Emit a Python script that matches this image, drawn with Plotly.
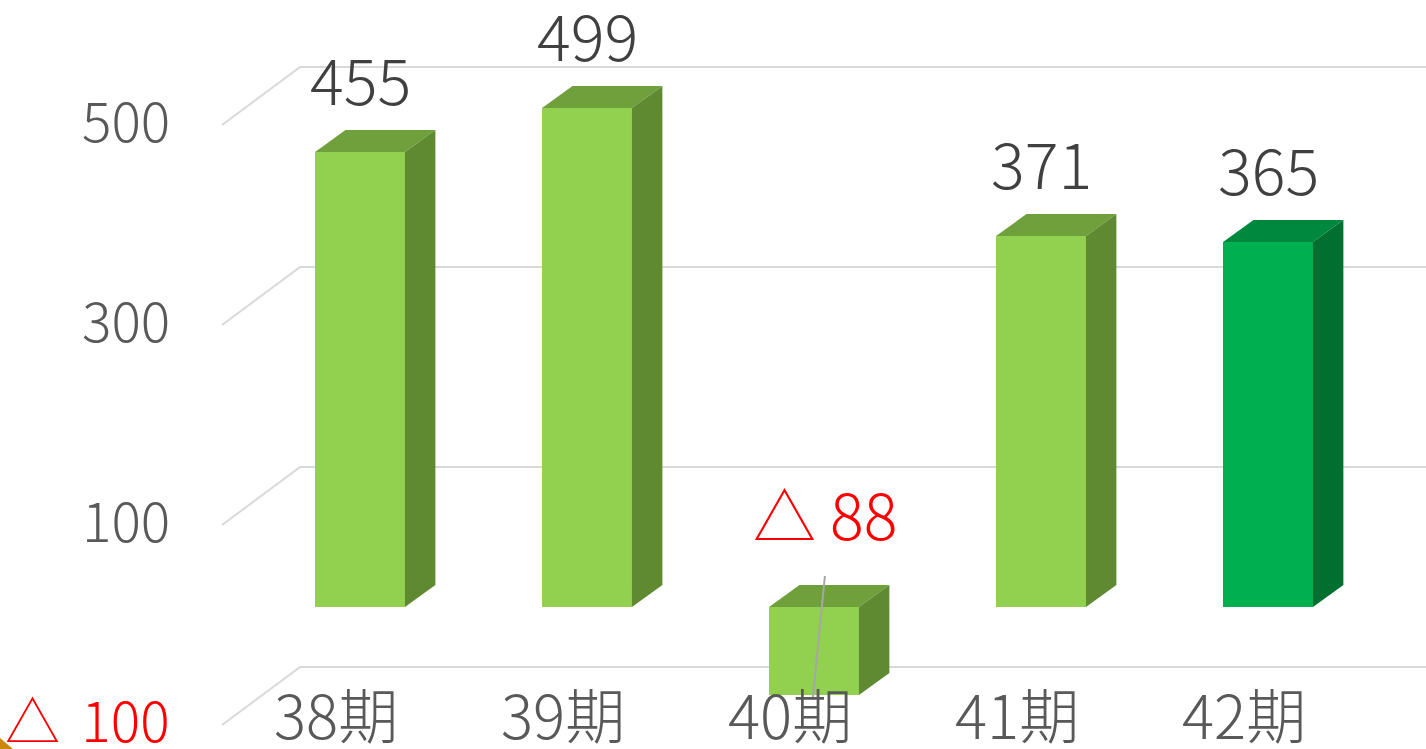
import plotly.graph_objects as go

# --- data ---
periods = ["38期", "39期", "40期", "41期", "42期"]
profit = [455, 499, -88, 371, 365]
tick_vals = [500, 300, 100, -100]
tick_text = ["500", "300", "100", "△ 100"]

# --- look ---
FONT = "Noto Sans CJK JP, Noto Sans, sans-serif"
GRID = "#D9D9D9"
LIGHT = dict(front="#92D050", top="#70A03C", side="#5F8A32")
DARK = dict(front="#00B050", top="#00893E", side="#006F2F")

W = 0.396        # bar width (category units)
DX, DY = 0.134, 22   # bar depth offset
WALL_BACK, WALL_FRONT = 40, -18   # gridline offsets back / front
WALL_X0, WALL_X1 = -0.608, -0.264

fig = go.Figure()

# gridlines on the back wall + perspective floor lines (kept under the bars)
for v in tick_vals:
    fig.add_shape(type="path", layer="below", xref="x", yref="y",
                  path=f"M {WALL_X0} {v + WALL_FRONT} L {WALL_X1} {v + WALL_BACK} L 5 {v + WALL_BACK}",
                  line=dict(color=GRID, width=2))

# 3D bars: front face as a Bar trace, top and side faces built from the values
fig.add_trace(go.Bar(
    x=list(range(len(periods))), y=profit, width=W,
    marker=dict(color=[DARK["front"] if i == len(profit) - 1 else LIGHT["front"]
                       for i in range(len(profit))], line=dict(width=0)),
    showlegend=False, hoverinfo="skip"))

for i, v in enumerate(profit):
    c = DARK if i == len(profit) - 1 else LIGHT
    xl, xr = i - W / 2, i + W / 2
    top, bot = max(v, 0), min(v, 0)
    fig.add_trace(go.Scatter(
        x=[xl, xl + DX, xr + DX, xr, xl], y=[top, top + DY, top + DY, top, top],
        fill="toself", fillcolor=c["top"], mode="lines", line=dict(width=0),
        hoverinfo="skip", showlegend=False))
    fig.add_trace(go.Scatter(
        x=[xr, xr + DX, xr + DX, xr, xr], y=[top, top + DY, bot + DY, bot, top],
        fill="toself", fillcolor=c["side"], mode="lines", line=dict(width=0),
        hoverinfo="skip", showlegend=False))

# data labels
for i, v in enumerate(profit):
    if v >= 0:
        fig.add_annotation(x=i, y=v + 75, text=str(v), showarrow=False,
                           font=dict(family=FONT, size=63, color="#404040", weight=300))
    else:
        # label was pulled away from the bar, with a leader line
        fig.add_trace(go.Scatter(x=[i + 0.048, i - 0.005], y=[31, v - 2], mode="lines",
                                 line=dict(color="#A6A6A6", width=2),
                                 hoverinfo="skip", showlegend=False))
        fig.add_annotation(x=i + 0.048, y=95, text="△ " + str(-v), showarrow=False,
                           font=dict(family=FONT, size=63, color="#FF0000", weight=300))

# value axis labels
for v, t in zip(tick_vals, tick_text):
    fig.add_annotation(x=-0.828, y=v - 11, text=(t.replace(" ", " \u2006") if v < 0 else t),
                       showarrow=False, xanchor="right",
                       font=dict(family=FONT, size=55, weight=300,
                                 color="#FF0000" if v < 0 else "#595959"))

# category labels
for i, p in enumerate(periods):
    fig.add_annotation(x=i - 0.106, y=-105, text=p, showarrow=False,
                       font=dict(family=FONT, size=60, color="#595959", weight=300))

# corner decoration
fig.add_shape(type="path", xref="paper", yref="paper",
              path="M 0 0.0147 L 0.0091 0 L 0 0 Z",
              fillcolor="#C9870E", line=dict(width=0))

fig.update_layout(
    width=1426, height=749,
    margin=dict(l=0, r=0, t=0, b=0),
    paper_bgcolor="white", plot_bgcolor="white",
    xaxis=dict(range=[-1.586, 4.696], visible=False, fixedrange=True),
    yaxis=dict(range=[-142, 607], visible=False, fixedrange=True),
    bargap=0,
)

fig.write_html("out.html", config={"displayModeBar": False},
               post_script="document.body.style.margin='0';document.body.style.overflow='hidden';")
